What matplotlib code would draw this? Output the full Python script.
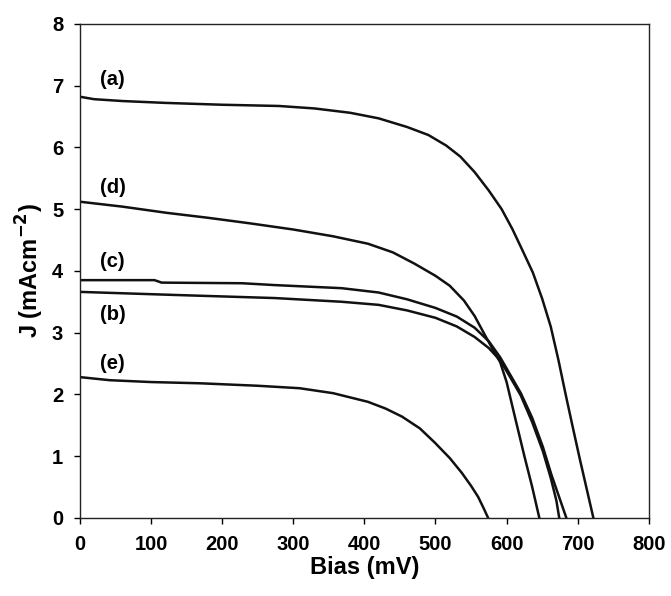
import matplotlib
matplotlib.use("Agg")
import matplotlib.pyplot as plt

plt.rcParams['font.family'] = ['Liberation Sans', 'DejaVu Sans']

# bias (mV) and current density (mA cm^-2)
bias_a = [0, 20, 60, 120, 200, 280, 330, 380, 420, 460, 490, 515, 535, 555, 575, 593, 608, 622, 637, 650, 662, 673, 683, 693, 703, 712, 718, 722]
j_a = [6.82, 6.78, 6.75, 6.72, 6.69, 6.67, 6.63, 6.56, 6.47, 6.33, 6.2, 6.03, 5.85, 5.6, 5.3, 5.0, 4.68, 4.34, 3.97, 3.55, 3.1, 2.55, 2.0, 1.47, 0.95, 0.5, 0.2, 0]

bias_d = [0, 60, 122, 180, 239, 300, 356, 405, 440, 470, 500, 520, 540, 555, 570, 582, 591, 600, 612, 625, 636, 646]
j_d = [5.12, 5.04, 4.94, 4.86, 4.77, 4.67, 4.56, 4.44, 4.3, 4.12, 3.92, 3.76, 3.52, 3.27, 2.95, 2.7, 2.52, 2.2, 1.62, 1.0, 0.5, 0]

bias_c = [0, 105, 115, 228, 274, 368, 420, 460, 500, 530, 555, 575, 591, 605, 620, 636, 651, 663, 675, 684]
j_c = [3.85, 3.85, 3.81, 3.8, 3.77, 3.72, 3.65, 3.54, 3.4, 3.26, 3.08, 2.86, 2.6, 2.32, 2.02, 1.62, 1.15, 0.7, 0.3, 0]

bias_b = [0, 134, 274, 368, 420, 460, 500, 530, 555, 575, 591, 605, 620, 636, 651, 662, 670, 674]
j_b = [3.66, 3.61, 3.56, 3.5, 3.45, 3.36, 3.24, 3.1, 2.93, 2.75, 2.55, 2.28, 1.98, 1.55, 1.08, 0.65, 0.28, 0]

bias_e = [0, 42, 100, 169, 250, 309, 356, 405, 430, 453, 478, 499, 520, 537, 550, 560, 568, 574]
j_e = [2.28, 2.23, 2.2, 2.18, 2.14, 2.1, 2.02, 1.88, 1.77, 1.64, 1.45, 1.22, 0.97, 0.73, 0.52, 0.34, 0.15, 0]

labels = ['(a)', '(d)', '(c)', '(b)', '(e)']
label_y = [7.1, 5.35, 4.15, 3.3, 2.5]

fig = plt.figure(figsize=(6.71, 5.96), dpi=100)
ax = fig.add_axes([0.119, 0.131, 0.848, 0.829])

for x, y in [(bias_a, j_a), (bias_d, j_d), (bias_c, j_c), (bias_b, j_b), (bias_e, j_e)]:
    ax.plot(x, y, color='#111111', lw=1.8)

for lab, ly in zip(labels, label_y):
    ax.text(28, ly, lab, fontsize=14.5, fontweight='bold', va='center', ha='left')

ax.set_xlim(0, 800)
ax.set_ylim(0, 8)
ax.set_xticks(range(0, 801, 100))
ax.set_yticks(range(0, 9))
ax.tick_params(direction='out', length=4, width=1, labelsize=14.5, pad=8)
for t in ax.get_xticklabels() + ax.get_yticklabels():
    t.set_fontweight('bold')
for s in ax.spines.values():
    s.set_linewidth(1.0)
    s.set_color('#222222')

ax.set_xlabel('Bias (mV)', fontsize=17, fontweight='bold', labelpad=2)
ax.set_ylabel('J (mAcm$^{\\mathbf{-2}}$)', fontsize=17, fontweight='bold', labelpad=4)

fig.savefig('out.png', dpi=100)
